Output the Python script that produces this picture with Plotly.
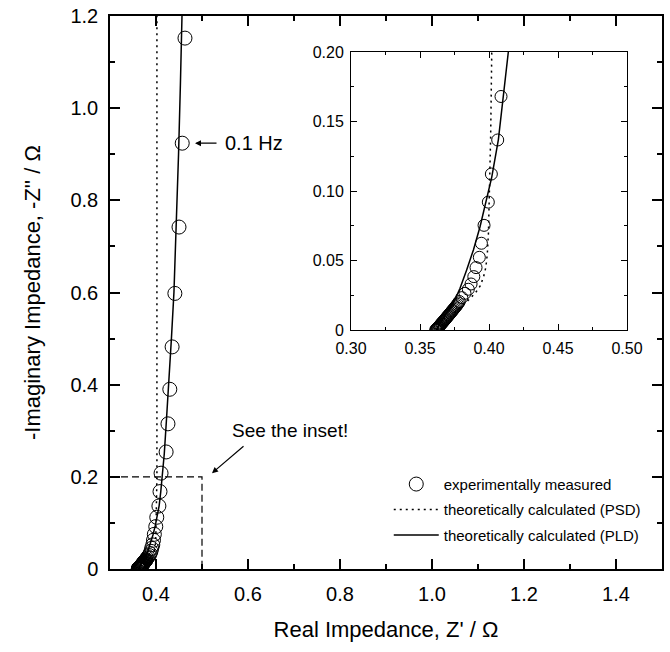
import plotly.graph_objects as go

# ---------------- data ----------------
exp_x = [0.3614, 0.3617, 0.3620, 0.3624, 0.3627, 0.3631, 0.3635, 0.3639, 0.3643, 0.3647,
         0.3651, 0.3656, 0.3660, 0.3665, 0.3670, 0.3675, 0.3680, 0.3685, 0.3690, 0.3696,
         0.3701, 0.3707, 0.3713, 0.3719, 0.3725, 0.3731, 0.3737, 0.3744, 0.3750, 0.3757,
         0.3764, 0.3771, 0.3778, 0.3785, 0.3803, 0.3826, 0.3850, 0.3870, 0.3890, 0.3906,
         0.3930, 0.3945, 0.3964, 0.3995, 0.4017, 0.4063, 0.4087, 0.4110, 0.4220, 0.4260,
         0.4300, 0.4350, 0.4410, 0.4500, 0.4570, 0.4630]
exp_y = [0.0000, 0.0003, 0.0006, 0.0010, 0.0014, 0.0018, 0.0022, 0.0027, 0.0031, 0.0036,
         0.0041, 0.0046, 0.0051, 0.0057, 0.0062, 0.0068, 0.0074, 0.0080, 0.0086, 0.0093,
         0.0099, 0.0106, 0.0113, 0.0120, 0.0127, 0.0135, 0.0142, 0.0150, 0.0158, 0.0166,
         0.0175, 0.0184, 0.0194, 0.0205, 0.0233, 0.0264, 0.0293, 0.0331, 0.0384, 0.0449,
         0.0523, 0.0624, 0.0753, 0.0920, 0.1122, 0.1367, 0.1680, 0.2080, 0.2540, 0.3150,
         0.3900, 0.4820, 0.5980, 0.7420, 0.9240, 1.1520]

psd_x = [0.3625, 0.3700, 0.3780, 0.3850, 0.3900, 0.3935, 0.3960, 0.3977, 0.3988, 0.3996,
         0.4003, 0.4012, 0.4020, 0.4020]
psd_y = [0.0000, 0.0075, 0.0150, 0.0215, 0.0265, 0.0315, 0.0380, 0.0450, 0.0550, 0.0700,
         0.0935, 0.1400, 0.2000, 1.2000]

pld_x = [0.3617, 0.3690, 0.3745, 0.3790, 0.3838, 0.3887, 0.3935, 0.3983, 0.4020, 0.4068,
         0.4104, 0.4140, 0.4180, 0.4225, 0.4280, 0.4335, 0.4390, 0.4445, 0.4490, 0.4530,
         0.4565]
pld_y = [0.0000, 0.0120, 0.0200, 0.0300, 0.0432, 0.0576, 0.0743, 0.0935, 0.1100, 0.1370,
         0.1680, 0.2000, 0.2500, 0.3200, 0.4000, 0.5000, 0.6000, 0.7500, 0.9000, 1.0500,
         1.2000]

# dashed outline of the zoomed region
box_x = [0.3, 0.5, 0.5]
box_y = [0.2, 0.2, 0.0]

series_names = ["experimentally measured",
                "theoretically calculated (PSD)",
                "theoretically calculated (PLD)"]

main_xticks = [0.4, 0.6, 0.8, 1.0, 1.2, 1.4]
main_xticklabels = ["0.4", "0.6", "0.8", "1.0", "1.2", "1.4"]
main_xminor = [0.3, 0.5, 0.7, 0.9, 1.1, 1.3, 1.5]
main_yticks = [0, 0.2, 0.4, 0.6, 0.8, 1.0, 1.2]
main_yticklabels = ["0", "0.2", "0.4", "0.6", "0.8", "1.0", "1.2"]
main_yminor = [0.1, 0.3, 0.5, 0.7, 0.9, 1.1]
inset_xticks = [0.30, 0.35, 0.40, 0.45, 0.50]
inset_xticklabels = ["0.30", "0.35", "0.40", "0.45", "0.50"]
inset_xminor = [0.325, 0.375, 0.425, 0.475]
inset_yticks = [0, 0.05, 0.10, 0.15, 0.20]
inset_yticklabels = ["0", "0.05", "0.10", "0.15", "0.20"]
inset_yminor = [0.025, 0.075, 0.125, 0.175]

FONT = "Liberation Sans, Arial, sans-serif"
DOT = "2px,4px"

fig = go.Figure()

# main plot
fig.add_trace(go.Scatter(x=exp_x, y=exp_y, mode="markers", name=series_names[0],
                         legendgroup="a",
                         marker=dict(symbol="circle-open", size=14, color="black",
                                     line=dict(width=1, color="black"))))
fig.add_trace(go.Scatter(x=psd_x, y=psd_y, mode="lines", name=series_names[1],
                         legendgroup="b",
                         line=dict(color="black", width=1.5, dash=DOT)))
fig.add_trace(go.Scatter(x=pld_x, y=pld_y, mode="lines", name=series_names[2],
                         legendgroup="c",
                         line=dict(color="black", width=1.5)))
fig.add_trace(go.Scatter(x=box_x, y=box_y, mode="lines", showlegend=False,
                         line=dict(color="black", width=1.2, dash="7px,4px")))

# inset
fig.add_trace(go.Scatter(x=exp_x, y=exp_y, mode="markers", showlegend=False,
                         xaxis="x2", yaxis="y2",
                         marker=dict(symbol="circle-open", size=12, color="black",
                                     line=dict(width=1, color="black"))))
fig.add_trace(go.Scatter(x=psd_x, y=psd_y, mode="lines", showlegend=False,
                         xaxis="x2", yaxis="y2",
                         line=dict(color="black", width=1.5, dash=DOT)))
fig.add_trace(go.Scatter(x=pld_x, y=pld_y, mode="lines", showlegend=False,
                         xaxis="x2", yaxis="y2",
                         line=dict(color="black", width=1.5)))

axis_common = dict(showline=True, linecolor="black", mirror="allticks",
                   ticks="inside", tickcolor="black", showgrid=False, zeroline=False,
                   automargin=False)

fig.update_layout(
    width=670, height=652,
    margin=dict(l=110, r=8, t=16, b=83),
    paper_bgcolor="white", plot_bgcolor="white",
    font=dict(family=FONT, color="black"),
    showlegend=True,
    legend=dict(x=0.505, y=0.183, xanchor="left", yanchor="top",
                font=dict(size=15, family=FONT), bgcolor="rgba(0,0,0,0)",
                traceorder="grouped", tracegroupgap=3, itemwidth=45),
    xaxis=dict(**axis_common, range=[0.3, 1.5], domain=[0, 1],
               tickmode="array", tickvals=main_xticks, ticktext=main_xticklabels,
               ticklen=10, tickwidth=1.5, linewidth=1.5,
               tickfont=dict(size=20), ticklabelstandoff=6,
               minor=dict(ticks="inside", ticklen=5, tickwidth=1.5, tickcolor="black",
                          tickmode="array", tickvals=main_xminor, showgrid=False),
               title=dict(text="Real Impedance, Z' / Ω", font=dict(size=22), standoff=18)),
    yaxis=dict(**axis_common, range=[0, 1.2], domain=[0, 1],
               tickmode="array", tickvals=main_yticks, ticktext=main_yticklabels,
               ticklen=10, tickwidth=1.5, linewidth=1.5,
               tickfont=dict(size=20), ticklabelstandoff=6,
               minor=dict(ticks="inside", ticklen=5, tickwidth=1.5, tickcolor="black",
                          tickmode="array", tickvals=main_yminor, showgrid=False),
               title=dict(text="-Imaginary Impedance, -Z'' / Ω", font=dict(size=22),
                          standoff=24)),
    xaxis2=dict(**axis_common, range=[0.3, 0.5], domain=[0.4366, 0.9366], anchor="y2",
                tickmode="array", tickvals=inset_xticks, ticktext=inset_xticklabels,
                ticklen=6, tickwidth=1, linewidth=1,
                tickfont=dict(size=16), ticklabelstandoff=4,
                minor=dict(ticks="inside", ticklen=3, tickwidth=1, tickcolor="black",
                           tickmode="array", tickvals=inset_xminor, showgrid=False)),
    yaxis2=dict(**axis_common, range=[0, 0.2], domain=[0.4322, 0.9349], anchor="x2",
                tickmode="array", tickvals=inset_yticks, ticktext=inset_yticklabels,
                ticklen=6, tickwidth=1, linewidth=1,
                tickfont=dict(size=16), ticklabelstandoff=3,
                minor=dict(ticks="inside", ticklen=3, tickwidth=1, tickcolor="black",
                           tickmode="array", tickvals=inset_yminor, showgrid=False)),
)

# annotations
fig.add_annotation(x=0.5457, y=0.924, xref="x", yref="y", text="0.1 Hz",
                   showarrow=False, xanchor="left", yanchor="middle",
                   font=dict(size=20, family=FONT))
fig.add_annotation(x=0.4848, y=0.924, ax=0.5348, ay=0.924, xref="x", yref="y",
                   axref="x", ayref="y", text="", showarrow=True,
                   arrowhead=2, arrowsize=1, arrowwidth=1.2, arrowcolor="black")
fig.add_annotation(x=0.5609, y=0.30, xref="x", yref="y", text="See the inset!",
                   showarrow=False, xanchor="left", yanchor="middle",
                   font=dict(size=19, family=FONT))
fig.add_annotation(x=0.5217, y=0.208, ax=0.5935, ay=0.269, xref="x", yref="y",
                   axref="x", ayref="y", text="", showarrow=True,
                   arrowhead=2, arrowsize=1, arrowwidth=1.2, arrowcolor="black")

fig.write_html("out.html", config={"displayModeBar": False},
               post_script="document.body.style.margin='0px';document.body.style.overflow='hidden';")
